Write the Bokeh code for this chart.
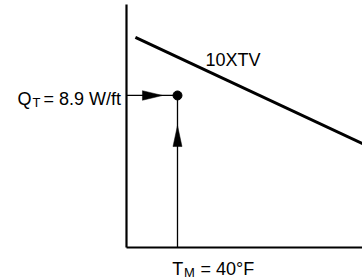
from bokeh.plotting import figure
from bokeh.models import Range1d
from bokeh.core.properties import value
from bokeh.embed import file_html
from bokeh.resources import INLINE

# ---- data (temperature in degF, heat loss in W/ft) ----
curve_T = [23.5, 112.6]
curve_Q = [12.3, 6.08]
curve_name = "10XTV"
curve_label_T = 51.0
curve_label_Q = 10.63

op_T = 40          # T_M
op_Q = 8.9         # Q_T
axis_T0 = 20       # origin of temperature axis
axis_Q0 = 0        # origin of heat-loss axis
harrow_tip_T = 34.1
varrow_tip_Q = 7.14

q_parts = ["Q", "T", "= 8.9 W/ft"]
t_parts = ["T", "M", "= 40\u00b0F"]

# ---- layout ----
W, H = 362, 280
x0, x1 = -29.41, 112.55
y0, y1 = -1.932, 14.46
px_x = W / (x1 - x0)
px_y = H / (y1 - y0)

FONT = "Liberation Sans"
FS = "18px"
FS_SUB = "13px"
INK = "#000000"
BL = -6.0   # baseline correction in px

p = figure(width=W, height=H, x_range=Range1d(x0, x1), y_range=Range1d(y0, y1),
           output_backend="svg", toolbar_location=None,
           x_axis_location=None, y_axis_location=None, min_border=0)
p.grid.visible = False
p.outline_line_color = None

# axes
p.line([axis_T0, axis_T0], [axis_Q0, y1 - 4 / px_y], line_color=INK, line_width=2.2)
p.line([axis_T0, x1], [axis_Q0, axis_Q0], line_color=INK, line_width=2.2)

# curve
p.line(curve_T, curve_Q, line_color=INK, line_width=3)

# guide lines
p.line([axis_T0, op_T], [op_Q, op_Q], line_color=INK, line_width=1.3)
p.line([op_T, op_T], [axis_Q0, op_Q], line_color=INK, line_width=1.3)

# arrowheads
hl, hw = 20 / px_x, 4.8 / px_y
p.patch([harrow_tip_T, harrow_tip_T - hl, harrow_tip_T - hl],
        [op_Q, op_Q + hw, op_Q - hw], color=INK, line_width=0.5)
vl, vw = 21 / px_y, 4.5 / px_x
p.patch([op_T, op_T - vw, op_T + vw],
        [varrow_tip_Q, varrow_tip_Q - vl, varrow_tip_Q - vl], color=INK, line_width=0.5)

# operating point
p.scatter([op_T], [op_Q], size=9, color=INK)

def txt(x, y, s, size, dx, dy, align="left"):
    p.text(x=[x], y=[y], text=[s], text_font=value(FONT), text_font_size=size,
           text_color=INK, text_align=align, text_baseline="alphabetic",
           x_offset=dx, y_offset=dy + BL)

# Q_T label
txt(axis_T0, op_Q, q_parts[0], FS, -109, 9.5)
txt(axis_T0, op_Q, q_parts[1], FS_SUB, -94, 13.5)
txt(axis_T0, op_Q, q_parts[2], FS, -83, 9.5)

# T_M label
txt(op_T, axis_Q0, t_parts[0], FS, -5.3, 27.5)
txt(op_T, axis_Q0, t_parts[1], FS_SUB, 6.5, 31.5)
txt(op_T, axis_Q0, t_parts[2], FS, 23, 27.5)

# curve label
txt(curve_label_T, curve_label_Q, curve_name, FS, 0, 0)

open("out.html", "w").write(file_html(p, INLINE))
